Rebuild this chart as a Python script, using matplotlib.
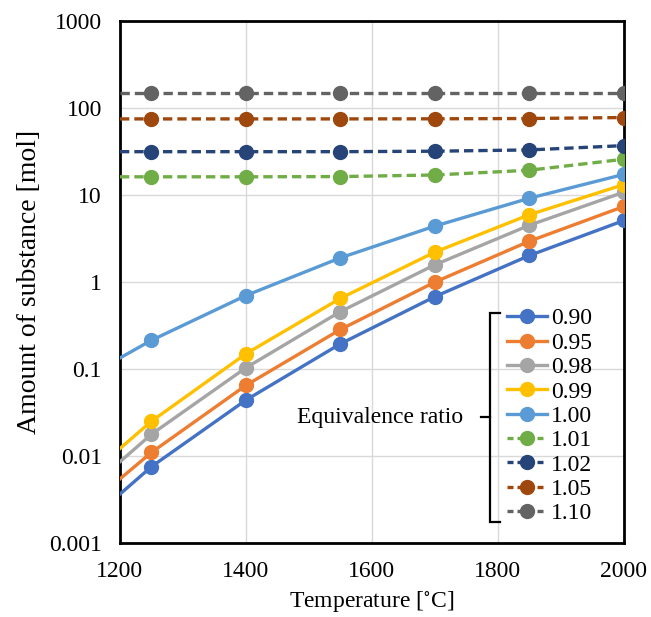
import matplotlib
matplotlib.use("Agg")
import matplotlib.pyplot as plt
from matplotlib.lines import Line2D

plt.rcParams['font.family'] = ['Liberation Serif', 'DejaVu Serif']
plt.rcParams['mathtext.fontset'] = 'stix'

# temperature points (1200 is the line start, no marker there)
temps = [1200, 1250, 1400, 1550, 1700, 1850, 2000]

ratios = ['0.90', '0.95', '0.98', '0.99', '1.00', '1.01', '1.02', '1.05', '1.10']

phi_090 = [0.00365, 0.00755, 0.0440, 0.195, 0.68, 2.02, 5.1]
phi_095 = [0.00546, 0.0110, 0.0650, 0.285, 1.00, 2.95, 7.4]
phi_098 = [0.0086, 0.0178, 0.1035, 0.458, 1.58, 4.5, 10.8]
phi_099 = [0.0122, 0.0251, 0.150, 0.65, 2.21, 5.95, 13.2]
phi_100 = [0.134, 0.214, 0.70, 1.90, 4.40, 9.2, 17.3]
phi_101 = [16.2, 16.2, 16.2, 16.3, 17.0, 19.3, 25.8]
phi_102 = [31.5, 31.5, 31.5, 31.5, 31.9, 33.0, 37.0]
phi_105 = [75.0, 75.0, 75.0, 75.0, 75.2, 75.8, 77.8]
phi_110 = [148, 148, 148, 148, 148, 148, 148]

series = [phi_090, phi_095, phi_098, phi_099, phi_100,
          phi_101, phi_102, phi_105, phi_110]
colors = ['#4472C4', '#ED7D31', '#A5A5A5', '#FFC000', '#5B9BD5',
          '#70AD47', '#264478', '#9E480E', '#636363']
dashed = [False] * 5 + [True] * 4

fig = plt.figure(figsize=(6.51, 6.17), dpi=100)
ax = fig.add_axes([0.1843, 0.1199, 0.7742, 0.846])

handles = []
for vals, col, dsh, lab in zip(series, colors, dashed, ratios):
    ls = (0, (2.8, 1.5)) if dsh else '-'
    ax.plot(temps, vals, color=col, lw=2.4, ls=ls, zorder=3)
    ax.plot(temps[1:], vals[1:], 'o', color=col, ms=10, zorder=4)
    handles.append(Line2D([], [], color=col, lw=2.4,
                          ls=(0, (1.8, 1.2)) if dsh else '-',
                          marker='o', ms=10, label=lab))

ax.set_yscale('log')
ax.set_xlim(1200, 2000)
ax.set_ylim(0.001, 1000)
ax.set_xticks([1200, 1400, 1600, 1800, 2000])
ax.set_yticks([0.001, 0.01, 0.1, 1, 10, 100, 1000])
ax.set_yticklabels(['0.001', '0.01', '0.1', '1', '10', '100', '1000'])
ax.minorticks_off()
ax.tick_params(length=0, labelsize=17, pad=13)
ax.grid(True, color='#D9D9D9', lw=1.0, zorder=0)
for sp in ax.spines.values():
    sp.set_linewidth(2.0)
    sp.set_color('black')

ax.set_xlabel('Temperature [$^{\\circ}$C]', fontsize=17, labelpad=5)
ax.set_ylabel('Amount of substance [mol]', fontsize=20, labelpad=5)

leg = ax.legend(handles=handles, loc='center left',
                bbox_to_anchor=(0.768, 0.243), frameon=False,
                fontsize=17, handlelength=1.7, handletextpad=0.15,
                labelspacing=0.12, borderpad=0.0, borderaxespad=0.0)

# bracket grouping the legend entries
bx, btop, bbot, bmid = 0.734, 0.4406, 0.0402, 0.2414
ax.plot([bx + 0.02, bx, bx, bx + 0.02], [btop, btop, bbot, bbot],
        transform=ax.transAxes, color='black', lw=1.6, zorder=5,
        solid_joinstyle='miter')
ax.plot([bx - 0.018, bx], [bmid, bmid], transform=ax.transAxes,
        color='black', lw=1.6, zorder=5)
ax.text(0.681, bmid, 'Equivalence ratio', transform=ax.transAxes,
        ha='right', va='center', fontsize=17)

fig.savefig('out.png', dpi=100)
